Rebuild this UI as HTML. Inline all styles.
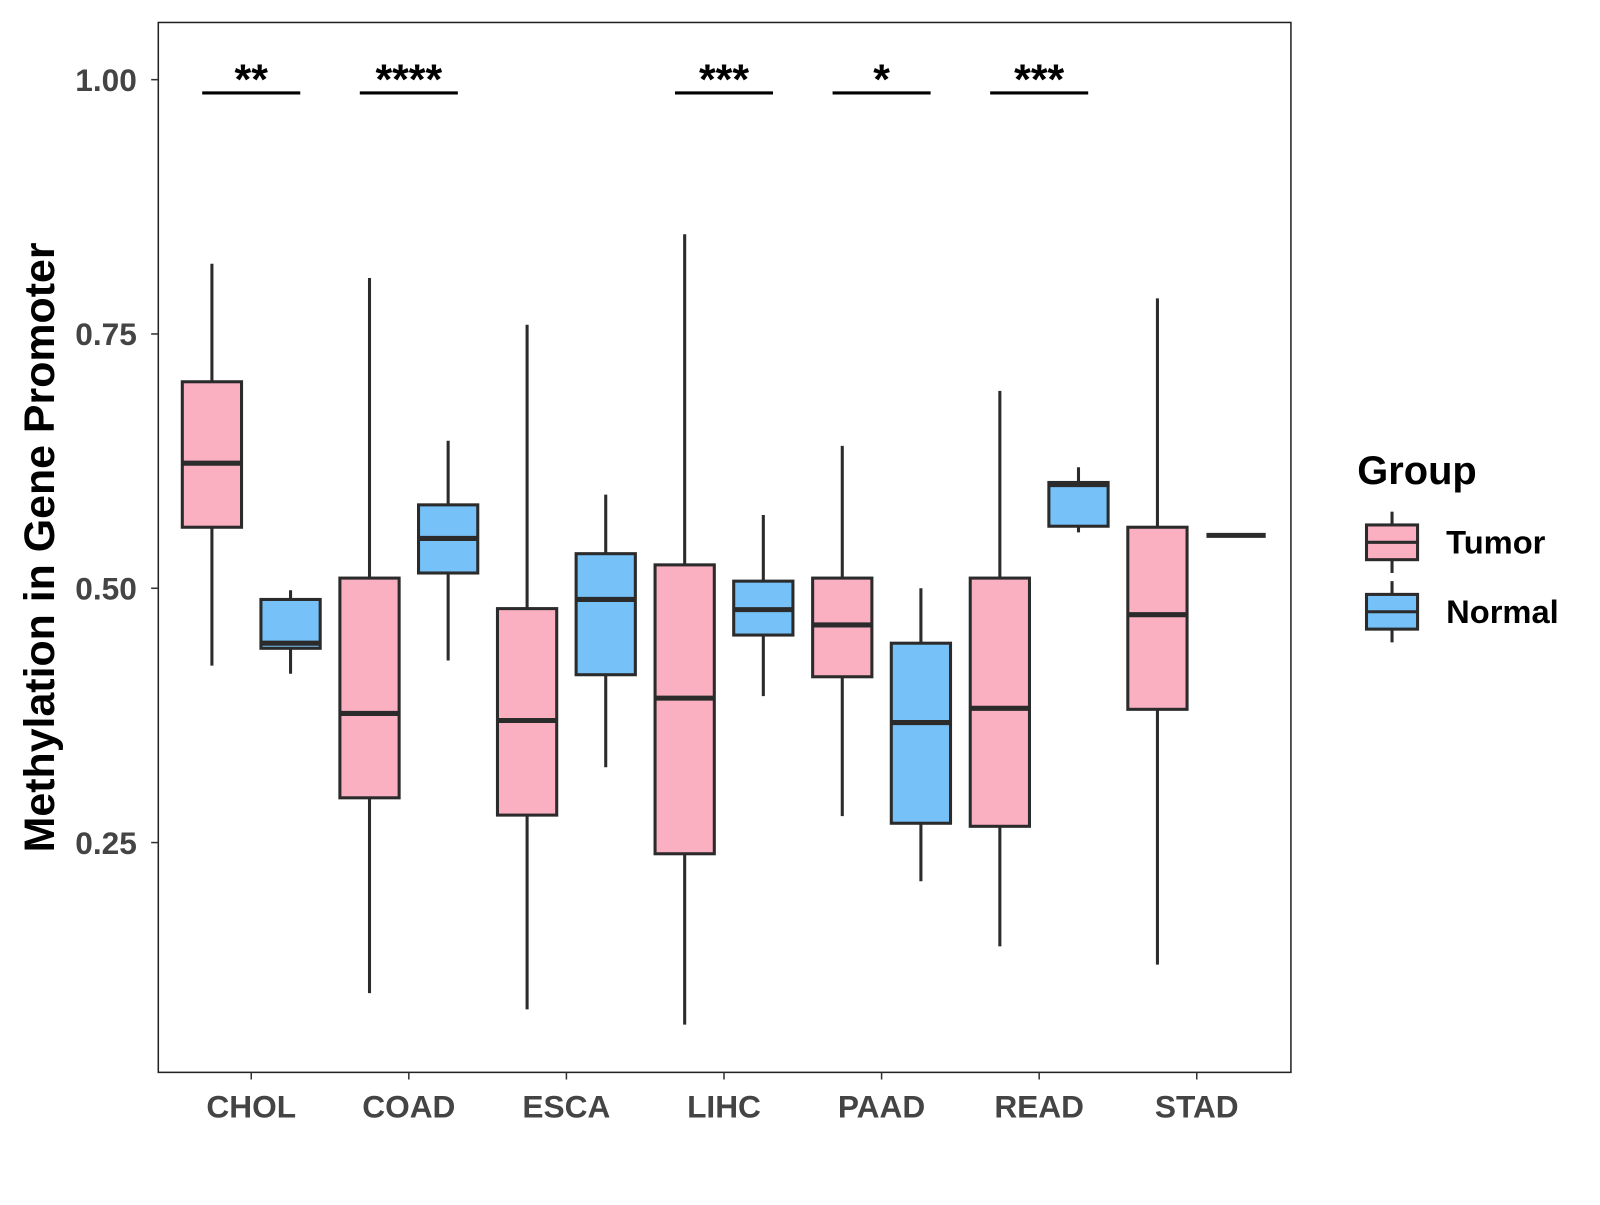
<!DOCTYPE html>
<html><head><meta charset="utf-8"><style>
body{margin:0;background:#fff}
svg text{font-family:"Liberation Sans",Arial,sans-serif;font-weight:bold}
</style></head><body>
<svg id="chart" width="1600" height="1200" xmlns="http://www.w3.org/2000/svg">
<rect x="0" y="0" width="1600" height="1200" fill="#fff"/>
<g id="plot" transform="scale(1.0213)"></g>
</svg>
<script>
const categories=["CHOL","COAD","ESCA","LIHC","PAAD","READ","STAD"];
const tumorStats=[[0.424,0.560,0.623,0.703,0.819],[0.102,0.294,0.377,0.510,0.805],[0.086,0.277,0.370,0.480,0.759],[0.071,0.239,0.392,0.523,0.848],[0.276,0.413,0.464,0.510,0.640],[0.148,0.266,0.382,0.510,0.694],[0.130,0.381,0.474,0.560,0.785]];
const normalStats=[[0.416,0.441,0.446,0.489,0.498],[0.429,0.515,0.549,0.582,0.645],[0.324,0.415,0.489,0.534,0.592],[0.394,0.454,0.479,0.507,0.572],[0.212,0.269,0.368,0.446,0.500],[0.555,0.561,0.602,0.604,0.619],[0.552,0.552,0.552,0.552,0.552]];
const sigLabels=["**","****","","***","*","***",""];
const yTicks=[0.25,0.5,0.75,1.0];
const yTickLabels=["0.25","0.50","0.75","1.00"];
const NS="http://www.w3.org/2000/svg";
const g=document.getElementById('plot');
const y=v=>78+(1-v)*996;
const x=i=>246+i*154.3;
function el(t,a,txt){const e=document.createElementNS(NS,t);for(const k in a)e.setAttribute(k,a[k]);if(txt!==undefined)e.textContent=txt;g.appendChild(e);return e;}
const panel=el('rect',{x:155,y:22,width:1109,height:1028,fill:'none',stroke:'#222','stroke-width':1.5});


yTicks.forEach((v,i)=>{
 const t=el('line',{x1:148,x2:155,y1:y(v),y2:y(v),stroke:'#333','stroke-width':1.5});
 
 
 const l=el('text',{x:134,y:y(v)+11,'text-anchor':'end','font-size':31,fill:'#444'},yTickLabels[i]);
 
 
});
categories.forEach((c,i)=>{
 const t=el('line',{x1:x(i),x2:x(i),y1:1050,y2:1057,stroke:'#333','stroke-width':1.5});
 
 
 const l=el('text',{x:x(i),y:1094,'text-anchor':'middle','font-size':31,fill:'#444'},c);
 
 
});
function box(s,cx,fill,name){
 const w=58;
 const wk=el('line',{x1:cx,x2:cx,y1:y(s[4]),y2:y(s[0]),stroke:'#2b2b2b','stroke-width':3});
 
 
 const b=el('rect',{x:cx-w/2,y:y(s[3]),width:w,height:Math.max(y(s[1])-y(s[3]),0),fill:fill,stroke:'#2b2b2b','stroke-width':3});
 
 
 const m=el('line',{x1:cx-w/2,x2:cx+w/2,y1:y(s[2]),y2:y(s[2]),stroke:'#2b2b2b','stroke-width':5});
 
 
}
categories.forEach((c,i)=>{
 box(tumorStats[i],x(i)-38.5,'#FBB0C2',c.toLowerCase()+'-tumor');
 box(normalStats[i],x(i)+38.5,'#76C1F8',c.toLowerCase()+'-normal');
 if(sigLabels[i]){
  const b=el('line',{x1:x(i)-48,x2:x(i)+48,y1:91,y2:91,stroke:'#000','stroke-width':3});
  
  
  const t=el('text',{x:x(i),y:92,'text-anchor':'middle','font-size':42,fill:'#000'},sigLabels[i]);
  
  
 }
});
const yt=el('text',{x:0,y:0,transform:'translate(53,536) rotate(-90)','text-anchor':'middle','font-size':42,fill:'#000'},'Methylation in Gene Promoter');


const lt=el('text',{x:1329,y:474,'font-size':39,fill:'#000'},'Group');


[['Tumor','#FBB0C2',531],['Normal','#76C1F8',599]].forEach(([n,f,cy])=>{
 const a=el('line',{x1:1363,x2:1363,y1:cy-30,y2:cy+30,stroke:'#2b2b2b','stroke-width':3});
 
 
 const r=el('rect',{x:1338,y:cy-17,width:50,height:34,fill:f,stroke:'#2b2b2b','stroke-width':3});
 
 
 const m=el('line',{x1:1338,x2:1388,y1:cy,y2:cy,stroke:'#2b2b2b','stroke-width':3});
 
 
 const t=el('text',{x:1416,y:cy+11,'font-size':32,fill:'#000'},n);
 
 
});
</script>
</body></html>
